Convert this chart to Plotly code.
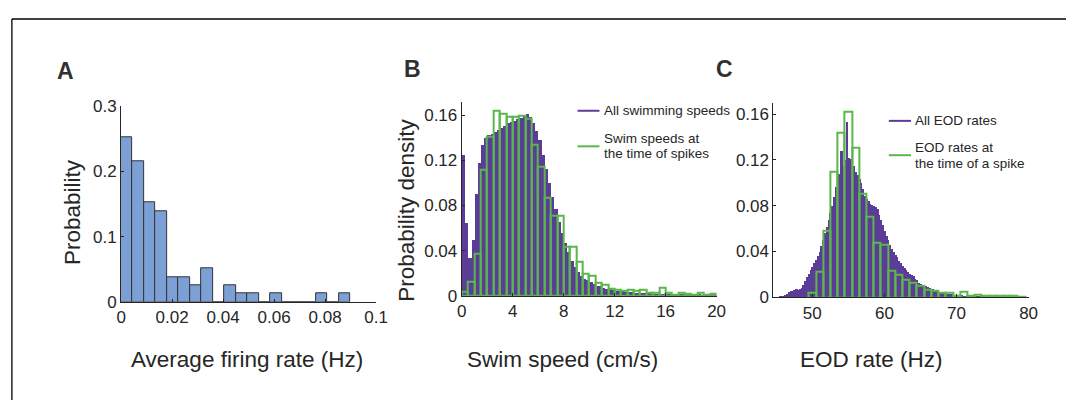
import plotly.graph_objects as go
import numpy as np

# ---------------- data ----------------
# Panel A: histogram of average firing rates (probability), bins of 0.0045 Hz from 0
A_BIN_START = 0.0
A_BIN_WIDTH = 0.0045
A_PROB = [0.253, 0.215, 0.152, 0.139, 0.038, 0.038, 0.025, 0.051, 0.0, 0.025,
          0.0127, 0.0127, 0.0, 0.0127, 0.0, 0.0, 0.0, 0.0127, 0.0, 0.0127]
A_XTICKS = [0, 0.02, 0.04, 0.06, 0.08, 0.1]
A_XTICKTEXT = ["0", "0.02", "0.04", "0.06", "0.08", "0.1"]
A_YTICKS = [0, 0.1, 0.2, 0.3]
A_YTICKTEXT = ["0", "0.1", "0.2", "0.3"]

# Panel B: swim speed densities
B_ALL_START = 0.0
B_ALL_WIDTH = 0.25
B_ALL = [0.125, 0.065, 0.034, 0.050,
         0.090, 0.118, 0.134, 0.140,
         0.143, 0.144, 0.145, 0.147,
         0.149, 0.151, 0.153, 0.154,
         0.155, 0.157, 0.158, 0.160,
         0.161, 0.159, 0.153, 0.146,
         0.138, 0.125, 0.113, 0.100,
         0.088, 0.077, 0.066, 0.056,
         0.047, 0.039, 0.031, 0.026,
         0.021, 0.018, 0.015, 0.014,
         0.012, 0.011, 0.0092, 0.0085,
         0.0072, 0.0066, 0.006, 0.0056,
         0.0048, 0.0043, 0.004, 0.0037,
         0.0035, 0.0033, 0.003, 0.0029,
         0.0027, 0.0025, 0.0024, 0.0022,
         0.002, 0.0019, 0.0018, 0.0017,
         0.0016, 0.0015, 0.0014, 0.0013,
         0.0012, 0.0012, 0.0011, 0.001,
         0.001, 0.0009, 0.0009, 0.0008,
         0.0008, 0.0007, 0.0007, 0.0006]
B_SPK_START = 0.0
B_SPK_WIDTH = 0.5
B_SPK = [0.0034, 0.0124, 0.037, 0.1115, 0.141, 0.1637, 0.161, 0.1586, 0.159, 0.160,
         0.157, 0.134, 0.114, 0.0866, 0.0705, 0.0705, 0.043, 0.0437, 0.030, 0.0195,
         0.0175, 0.0113, 0.0099, 0.0062, 0.0054, 0.0043, 0.0057, 0.0043, 0.0054, 0.0026,
         0.0026, 0.0071, 0.0026, 0.0012, 0.003, 0.002, 0.0012, 0.003, 0.0008, 0.0015]
B_XTICKS = [0, 4, 8, 12, 16, 20]
B_YTICKS = [0, 0.04, 0.08, 0.12, 0.16]
B_YTICKTEXT = ["0", "0.04", "0.08", "0.12", "0.16"]

# Panel C: EOD rate densities
C_ALL_START = 45.0
C_ALL_WIDTH = 0.25
C_ALL = [0.0, 0.0, 0.0005, 0.001,            # 45
         0.0015, 0.0025, 0.0035, 0.0045,     # 46
         0.0055, 0.006, 0.007, 0.0075,       # 47
         0.007, 0.0072, 0.0085, 0.011,       # 48
         0.0145, 0.018, 0.0205, 0.024,       # 49
         0.027, 0.030, 0.033, 0.036,         # 50
         0.040, 0.045, 0.050, 0.056,         # 51
         0.062, 0.068, 0.074, 0.080,         # 52
         0.088, 0.097, 0.102, 0.108,         # 53
         0.128, 0.115, 0.120, 0.153,         # 54
         0.122, 0.121, 0.119, 0.115,         # 55
         0.110, 0.107, 0.104, 0.100,         # 56
         0.095, 0.089, 0.086, 0.084,         # 57
         0.082, 0.081, 0.080, 0.079,         # 58
         0.077, 0.072, 0.068, 0.063,         # 59
         0.058, 0.054, 0.050, 0.046,         # 60
         0.042, 0.040, 0.037, 0.035,         # 61
         0.032, 0.030, 0.028, 0.026,         # 62
         0.024, 0.022, 0.0205, 0.0195,       # 63
         0.0185, 0.016, 0.015, 0.013,        # 64
         0.012, 0.011, 0.0105, 0.010,        # 65
         0.0092, 0.0085, 0.0078, 0.0072,     # 66
         0.0062, 0.0058, 0.0052, 0.0049,     # 67
         0.0046, 0.0042, 0.0036, 0.0033,     # 68
         0.0032, 0.0029, 0.0026, 0.0025,     # 69
         0.0023, 0.0021, 0.002, 0.0019,      # 70
         0.0017, 0.0016, 0.0015, 0.0014,     # 71
         0.0013, 0.0012, 0.0011, 0.001,      # 72
         0.001, 0.0009, 0.0009, 0.0008,      # 73
         0.0008, 0.0007, 0.0007, 0.0007,     # 74
         0.0006, 0.0006, 0.0006, 0.0005,     # 75
         0.0005, 0.0005, 0.0005, 0.0004,     # 76
         0.0004, 0.0004, 0.0004, 0.0004,     # 77
         0.0003, 0.0003, 0.0003, 0.0003,     # 78
         0.0003, 0.0003, 0.0002, 0.0002]     # 79
C_SPK_START = 49.5
C_SPK_WIDTH = 1.0
C_SPK = [0.004, 0.0227, 0.058, 0.110, 0.1436, 0.162, 0.131, 0.0906, 0.0706, 0.048,
         0.046, 0.023, 0.0197, 0.015, 0.0125, 0.0103, 0.0069, 0.0053, 0.0042, 0.0042,
         0.0014, 0.0047, 0.0014, 0.002, 0.0017, 0.0014, 0.0011, 0.001, 0.001, 0.0008]
C_XTICKS = [50, 60, 70, 80]
C_YTICKS = [0, 0.04, 0.08, 0.12, 0.16]
C_YTICKTEXT = ["0", "0.04", "0.08", "0.12", "0.16"]

# ---------------- styling ----------------
W, H = 1078, 410
FONT = "Liberation Sans, Arial, sans-serif"
TXT = "#262626"
PURPLE = "#5b3c97"
GREEN = "#5ab84a"
BLUE = "#7c9fd6"


def px(x):
    return x / W


def py(y):
    return 1 - y / H


def centers(start, width, n):
    return start + width * (np.arange(n) + 0.5)


fig = go.Figure()

# Panel A
fig.add_trace(go.Bar(x=centers(A_BIN_START, A_BIN_WIDTH, len(A_PROB)), y=A_PROB,
                     width=A_BIN_WIDTH, marker=dict(color=BLUE, line=dict(color="#333333", width=1)),
                     xaxis="x", yaxis="y"))
# Panel B
fig.add_trace(go.Bar(x=centers(B_ALL_START, B_ALL_WIDTH, len(B_ALL)), y=B_ALL,
                     width=B_ALL_WIDTH, marker=dict(color=PURPLE, line=dict(width=0)),
                     xaxis="x2", yaxis="y2"))
fig.add_trace(go.Bar(x=centers(B_SPK_START, B_SPK_WIDTH, len(B_SPK)), y=B_SPK,
                     width=B_SPK_WIDTH, marker=dict(color="rgba(0,0,0,0)", line=dict(color=GREEN, width=2)),
                     xaxis="x2", yaxis="y2"))
# Panel C
fig.add_trace(go.Bar(x=centers(C_ALL_START, C_ALL_WIDTH, len(C_ALL)), y=C_ALL,
                     width=C_ALL_WIDTH, marker=dict(color=PURPLE, line=dict(width=0)),
                     xaxis="x3", yaxis="y3"))
fig.add_trace(go.Bar(x=centers(C_SPK_START, C_SPK_WIDTH, len(C_SPK)), y=C_SPK,
                     width=C_SPK_WIDTH, marker=dict(color="rgba(0,0,0,0)", line=dict(color=GREEN, width=2)),
                     xaxis="x3", yaxis="y3"))

axis_common = dict(showline=True, linecolor=TXT, linewidth=1, ticks="inside", ticklen=3,
                   tickcolor=TXT, showgrid=False, zeroline=False,
                   tickfont=dict(family=FONT, size=17, color=TXT))

fig.update_layout(
    autosize=True, margin=dict(l=0, r=0, t=0, b=0, pad=0),
    paper_bgcolor="white", plot_bgcolor="rgba(0,0,0,0)",
    showlegend=False, barmode="overlay", bargap=0,
    xaxis=dict(domain=[px(118), px(377)], range=[0, 0.1], tickvals=A_XTICKS, ticktext=A_XTICKTEXT,
               anchor="y", **axis_common),
    yaxis=dict(domain=[py(307), py(102)], range=[0, 0.3], tickvals=A_YTICKS, ticktext=A_YTICKTEXT,
               anchor="x", **axis_common),
    xaxis2=dict(domain=[px(464), px(723)], range=[0, 20], tickvals=B_XTICKS,
                anchor="y2", **axis_common),
    yaxis2=dict(domain=[py(300.7), py(97.3)], range=[0, 0.172], tickvals=B_YTICKS, ticktext=B_YTICKTEXT,
                anchor="x2", **axis_common),
    xaxis3=dict(domain=[px(780.7), px(1040)], range=[44.6, 80], tickvals=C_XTICKS,
                anchor="y3", **axis_common),
    yaxis3=dict(domain=[py(302.3), py(98.3)], range=[0, 0.17], tickvals=C_YTICKS, ticktext=C_YTICKTEXT,
                anchor="x3", **axis_common),
)

ann = []


def text(x, y, s, size, angle=0, bold=False, xanchor="center", color=TXT):
    ann.append(dict(x=px(x), y=py(y), xref="paper", yref="paper", text=f"<b>{s}</b>" if bold else s,
                    showarrow=False, textangle=angle, xanchor=xanchor, yanchor="middle",
                    font=dict(family=FONT, size=size, color=color)))


# panel letters
text(61, 65, "A", 23, bold=True, color="#303030")
text(414, 63, "B", 23, bold=True, color="#303030")
text(731, 63, "C", 23, bold=True, color="#303030")
# axis titles
text(68, 213, "Probability", 22.5, angle=-90)
text(408, 211, "Probability density", 22.5, angle=-90)
text(246, 368, "Average firing rate (Hz)", 22.5)
text(566, 368, "Swim speed (cm/s)", 22.5)
text(880, 368, "EOD rate (Hz)", 22.5)
# legends
text(606.7, 106.5, "All swimming speeds", 13.5, xanchor="left")
text(606.7, 135.5, "Swim speeds at", 13.5, xanchor="left")
text(606.7, 151.5, "the time of spikes", 13.5, xanchor="left")
text(922.3, 116.5, "All EOD rates", 13.5, xanchor="left")
text(922.3, 145, "EOD rates at", 13.5, xanchor="left")
text(922.3, 161.7, "the time of a spike", 13.5, xanchor="left")
fig.update_layout(annotations=ann)

shapes = [
    dict(type="line", xref="paper", yref="paper", x0=px(581.7), x1=px(604), y0=py(106.7), y1=py(106.7),
         line=dict(color=PURPLE, width=2)),
    dict(type="line", xref="paper", yref="paper", x0=px(581.7), x1=px(604), y0=py(144), y1=py(144),
         line=dict(color=GREEN, width=2)),
    dict(type="line", xref="paper", yref="paper", x0=px(898), x1=px(920.5), y0=py(117.3), y1=py(117.3),
         line=dict(color=PURPLE, width=2)),
    dict(type="line", xref="paper", yref="paper", x0=px(898), x1=px(920.5), y0=py(153.3), y1=py(153.3),
         line=dict(color=GREEN, width=2)),
    # frame (top and left edges)
    dict(type="line", xref="paper", yref="paper", x0=px(7), x1=px(1078), y0=py(10.5), y1=py(10.5),
         line=dict(color="black", width=1.3)),
    dict(type="line", xref="paper", yref="paper", x0=px(7), x1=px(7), y0=py(10.5), y1=py(410),
         line=dict(color="black", width=1.3)),
]
fig.update_layout(shapes=shapes)

fig.write_html("out.html", default_width="100vw", default_height="100vh",
               config={"displayModeBar": False, "responsive": True},
               post_script="document.body.style.margin='0';document.body.style.overflow='hidden';"
                           "document.documentElement.style.overflow='hidden';")
